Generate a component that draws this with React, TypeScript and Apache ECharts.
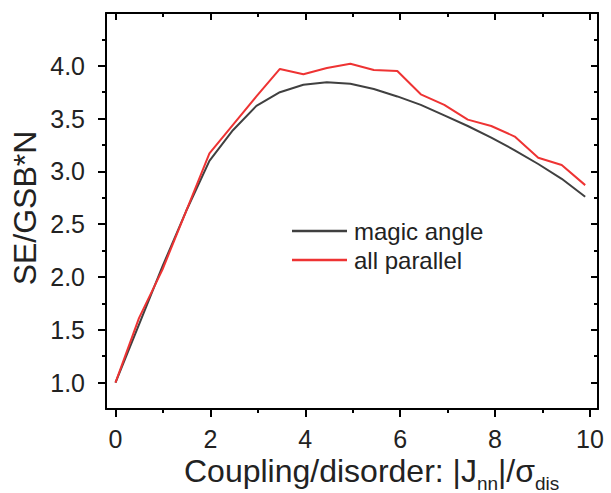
import React, { useEffect, useRef } from "react";
import * as echarts from "echarts";

const xValues = [0, 0.495, 0.99, 1.485, 1.98, 2.475, 2.97, 3.465, 3.96, 4.455, 4.95, 5.445, 5.94, 6.435, 6.93, 7.425, 7.92, 8.415, 8.91, 9.405, 9.9];
const magicAngle = [1.0, 1.55, 2.1, 2.62, 3.1, 3.39, 3.62, 3.75, 3.82, 3.845, 3.83, 3.78, 3.71, 3.63, 3.53, 3.43, 3.32, 3.2, 3.07, 2.93, 2.76];
const allParallel = [1.0, 1.61, 2.07, 2.62, 3.17, 3.44, 3.71, 3.97, 3.92, 3.98, 4.02, 3.96, 3.95, 3.73, 3.63, 3.49, 3.43, 3.33, 3.13, 3.06, 2.87];
const xMajor = [0, 2, 4, 6, 8, 10];
const xMinor = [1, 3, 5, 7, 9];
const yMajor = [1.0, 1.5, 2.0, 2.5, 3.0, 3.5, 4.0];
const yMinor = [1.25, 1.75, 2.25, 2.75, 3.25, 3.75, 4.25];
const seriesNames = ["magic angle", "all parallel"];

const FONT = "'Liberation Sans', Arial, sans-serif";
const TXT = "#222";

export default function App() {
  const ref = useRef<HTMLDivElement>(null);
  useEffect(() => {
    document.body.style.margin = "0";
    const chart = echarts.init(ref.current!, null, { renderer: "svg" });
    const X = { min: -0.2, max: 10.17 };
    const Y = { min: 0.75, max: 4.5 };
    const line = { color: "#000", width: 2 };
    const mkX = (position: string, vals: number[], len: number, inside: boolean, showLine: boolean, label: boolean) => ({
      type: "value", gridIndex: 0, position, ...X,
      axisLine: { show: showLine, onZero: false, lineStyle: line },
      axisTick: { show: true, inside, length: len, customValues: vals, lineStyle: { color: "#000", width: 2 } },
      axisLabel: label
        ? { show: true, customValues: vals, fontSize: 25, margin: 17, color: TXT, fontFamily: FONT, formatter: (v: number) => String(v) }
        : { show: false },
      splitLine: { show: false },
    });
    const mkY = (position: string, vals: number[], len: number, inside: boolean, showLine: boolean, label: boolean) => ({
      type: "value", gridIndex: 0, position, ...Y,
      axisLine: { show: showLine, onZero: false, lineStyle: line },
      axisTick: { show: true, inside, length: len, customValues: vals, lineStyle: { color: "#000", width: 2 } },
      axisLabel: label
        ? { show: true, customValues: vals, fontSize: 25, margin: 21, color: TXT, fontFamily: FONT, formatter: (v: number) => v.toFixed(1) }
        : { show: false },
      splitLine: { show: false },
    });
    chart.setOption({
      animation: false,
      backgroundColor: "#fff",
      grid: { left: 106, right: 13, top: 13, bottom: 84 },
      xAxis: [
        mkX("bottom", xMajor, 8, false, true, true),
        mkX("bottom", xMinor, 4, false, false, false),
        mkX("top", xMajor, 7, true, true, false),
        mkX("top", xMinor, 4, true, false, false),
      ],
      yAxis: [
        mkY("left", yMajor, 8, false, true, true),
        mkY("left", yMinor, 4, false, false, false),
        mkY("right", yMajor, 7, true, true, false),
        mkY("right", yMinor, 4, true, false, false),
      ],
      legend: {
        orient: "vertical",
        left: 292,
        top: 219,
        padding: 0,
        icon: "rect",
        itemWidth: 55,
        itemHeight: 2.5,
        itemGap: 5,
        data: seriesNames,
        textStyle: { fontSize: 24, color: TXT, fontFamily: FONT, padding: [0, 0, 0, 2] },
      },
      graphic: [
        {
          type: "text",
          x: 25,
          y: 208,
          rotation: Math.PI / 2,
          style: { text: "SE/GSB*N", fontSize: 32, fontFamily: FONT, fill: TXT, align: "center", verticalAlign: "middle" },
        },
        {
          type: "text",
          x: 184,
          y: 471,
          style: {
            text: "{a|Coupling/disorder: |J}{s|nn}{a||/σ}{s|dis}",
            align: "left",
            verticalAlign: "middle",
            fill: TXT,
            rich: {
              a: { fontSize: 32, fontFamily: FONT, fill: TXT, lineHeight: 44, verticalAlign: "middle" },
              s: { fontSize: 19, fontFamily: FONT, fill: TXT, lineHeight: 19, verticalAlign: "bottom" },
            },
          },
        },
      ],
      series: [
        {
          name: seriesNames[0], type: "line", xAxisIndex: 0, yAxisIndex: 0, symbol: "none",
          lineStyle: { color: "#404040", width: 2 }, itemStyle: { color: "#404040" },
          data: xValues.map((x, i) => [x, magicAngle[i]]),
        },
        {
          name: seriesNames[1], type: "line", xAxisIndex: 0, yAxisIndex: 0, symbol: "none",
          lineStyle: { color: "#ee3333", width: 2 }, itemStyle: { color: "#ee3333" },
          data: xValues.map((x, i) => [x, allParallel[i]]),
        },
      ],
    });
    return () => chart.dispose();
  }, []);
  return <div ref={ref} style={{ width: 611, height: 493 }} />;
}
